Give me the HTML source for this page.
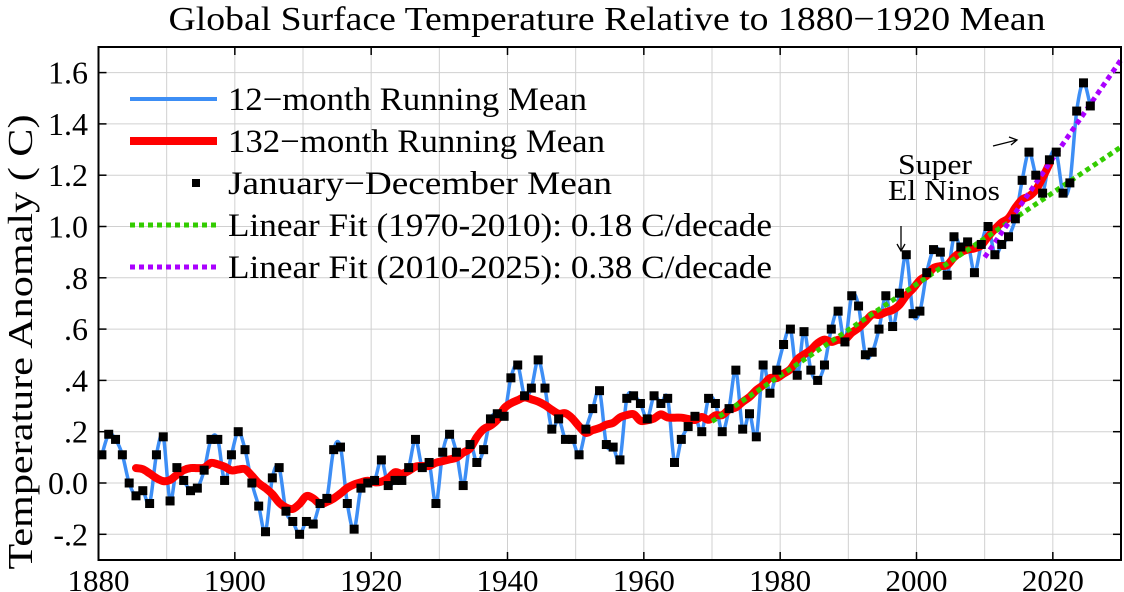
<!DOCTYPE html>
<html><head><meta charset="utf-8"><style>
body{margin:0;background:#fff}
svg{display:block;font-family:"Liberation Serif",serif}
</style></head><body>
<svg id="chart" width="1124" height="592" viewBox="0 0 1124 592"></svg>
<script>
const years = [];
for (let y = 1880; y <= 2025; y++) years.push(y);
const gistemp = [-0.17,-0.09,-0.11,-0.17,-0.28,-0.33,-0.31,-0.36,-0.17,-0.10,
-0.35,-0.22,-0.27,-0.31,-0.30,-0.23,-0.11,-0.11,-0.27,-0.17,
-0.08,-0.15,-0.28,-0.37,-0.47,-0.26,-0.22,-0.39,-0.43,-0.48,
-0.43,-0.44,-0.36,-0.34,-0.15,-0.14,-0.36,-0.46,-0.30,-0.28,
-0.27,-0.19,-0.29,-0.27,-0.27,-0.22,-0.11,-0.22,-0.20,-0.36,
-0.16,-0.09,-0.16,-0.29,-0.13,-0.20,-0.15,-0.03,-0.01,-0.02,
0.13,0.18,0.06,0.09,0.20,0.09,-0.07,-0.03,-0.11,-0.11,
-0.17,-0.07,0.01,0.08,-0.13,-0.14,-0.19,0.05,0.06,0.03,
-0.03,0.06,0.03,0.05,-0.20,-0.11,-0.06,-0.02,-0.08,0.05,
0.03,-0.08,0.01,0.16,-0.07,-0.01,-0.10,0.18,0.07,0.16,
0.26,0.32,0.14,0.31,0.16,0.12,0.18,0.32,0.39,0.27,
0.45,0.41,0.22,0.23,0.32,0.45,0.33,0.46,0.61,0.38,
0.39,0.54,0.63,0.62,0.53,0.68,0.64,0.66,0.54,0.65,
0.72,0.61,0.65,0.68,0.75,0.90,1.01,0.92,0.85,0.98,
1.01,0.85,0.89,1.17,1.28,1.19];
const baselineShift = 0.28;
const annualMean = gistemp.map(v => +(v + baselineShift).toFixed(2));
const fitGreen = {x0:1970, x1:2030, y0:0.24, y1:1.31};
const fitPurple = {x0:2010, x1:2030, y0:0.88, y1:1.65};
const yTicks = [-0.2,0,0.2,0.4,0.6,0.8,1.0,1.2,1.4,1.6];
const yTickLabels = ["-.2","0.0",".2",".4",".6",".8","1.0","1.2","1.4","1.6"];
const xTicks = [1880,1900,1920,1940,1960,1980,2000,2020];

const svg = document.getElementById('chart');
const NS = 'http://www.w3.org/2000/svg';
const L=98.5, R=1121, T=47, B=560;
const X = yr => L + (yr-1880)*(R-L)/150;
const Y = v => 483 - v*256.5;
function el(tag, attrs, parent){const e=document.createElementNS(NS,tag);for(const k in attrs)e.setAttribute(k,attrs[k]);(parent||svg).appendChild(e);return e;}

const grid = el('g',{});


for(let yr=1890; yr<2030; yr+=10) el('line',{x1:X(yr),x2:X(yr),y1:T,y2:B,stroke:'#d0d0d0','stroke-width':1},grid);
for(const v of yTicks) el('line',{x1:L,x2:R,y1:Y(v),y2:Y(v),stroke:'#d0d0d0','stroke-width':1},grid);

for(let i=0;i<yTicks.length;i++){
  const t=el('text',{x:88,y:Y(yTicks[i])+11,'text-anchor':'end','font-size':32});
  t.textContent=yTickLabels[i];
  
  
  el('line',{x1:L,x2:L+8,y1:Y(yTicks[i]),y2:Y(yTicks[i]),stroke:'#000','stroke-width':1.5});
  el('line',{x1:R-8,x2:R,y1:Y(yTicks[i]),y2:Y(yTicks[i]),stroke:'#000','stroke-width':1.5});
}
for(const yr of xTicks){
  const t=el('text',{x:X(yr),y:591,'text-anchor':'middle','font-size':31,textLength:62,lengthAdjust:'spacingAndGlyphs'});
  t.textContent=yr;
  
  
  el('line',{x1:X(yr),x2:X(yr),y1:B,y2:B-8,stroke:'#000','stroke-width':1.5});
  el('line',{x1:X(yr),x2:X(yr),y1:T,y2:T+8,stroke:'#000','stroke-width':1.5});
}

function spline(pts){
  let d='M'+pts[0][0]+','+pts[0][1];
  for(let i=0;i<pts.length-1;i++){
    const p0=pts[Math.max(0,i-1)],p1=pts[i],p2=pts[i+1],p3=pts[Math.min(pts.length-1,i+2)];
    const c1=[p1[0]+(p2[0]-p0[0])/6,p1[1]+(p2[1]-p0[1])/6];
    const c2=[p2[0]-(p3[0]-p1[0])/6,p2[1]-(p3[1]-p1[1])/6];
    d+=`C${c1[0].toFixed(1)},${c1[1].toFixed(1)} ${c2[0].toFixed(1)},${c2[1].toFixed(1)} ${p2[0].toFixed(1)},${p2[1].toFixed(1)}`;
  }
  return d;
}
const bluePts = years.map((yr,i)=>[X(yr+0.5),Y(annualMean[i])]);
const blue = el('path',{d:spline(bluePts),fill:'none',stroke:'#3d8ef5','stroke-width':3.5});



const redPts=[];
for(let i=5;i<annualMean.length-6;i++){
  let s=0;for(let j=i-5;j<=i+5;j++)s+=annualMean[j];
  redPts.push([X(years[i]+0.5),Y(s/11)]);
}
const red = el('path',{d:spline(redPts),fill:'none',stroke:'#ff0000','stroke-width':8,'stroke-linejoin':'round','stroke-linecap':'round'});



const g1=el('line',{x1:X(fitGreen.x0),y1:Y(fitGreen.y0),x2:X(fitGreen.x1),y2:Y(fitGreen.y1),stroke:'#33cc00','stroke-width':5,'stroke-dasharray':'5 4'});


const p1=el('line',{x1:X(fitPurple.x0),y1:Y(fitPurple.y0),x2:X(fitPurple.x1),y2:Y(fitPurple.y1),stroke:'#aa00ff','stroke-width':5,'stroke-dasharray':'5 4'});



for(let i=0;i<years.length;i++){
  const m=el('rect',{x:X(years[i]+0.5)-4.5,y:Y(annualMean[i])-4.5,width:9,height:9,fill:'#000'});
  
  
}

const fr=el('rect',{x:L,y:T,width:R-L,height:B-T,fill:'none',stroke:'#000','stroke-width':2});



const leg=[['12−month Running Mean','#3d8ef5',4,null,359],['132−month Running Mean','#ff0000',8,null,377],['January−December Mean',null,0,null,384],
['Linear Fit (1970-2010): 0.18  C/decade','#33cc00',5,'5 4',544],['Linear Fit (2010-2025): 0.38  C/decade','#aa00ff',5,'5 4',544]];
const ly=[99,141,183,225,267];
leg.forEach((l,i)=>{
  const g=el('g',{});
  
  
  if(l[1]){const a={x1:130,x2:217,y1:ly[i],y2:ly[i],stroke:l[1],'stroke-width':l[2]};if(l[3])a['stroke-dasharray']=l[3];el('line',a,g);}
  else el('rect',{x:192,y:ly[i]-4,width:8,height:8,fill:'#000'},g);
  const t=el('text',{x:228,y:ly[i]+11,'font-size':33,textLength:l[4],lengthAdjust:'spacingAndGlyphs','xml:space':'preserve'},g);t.textContent=l[0];
});

const a1=el('text',{x:935,y:174,'text-anchor':'middle','font-size':28,textLength:74,lengthAdjust:'spacingAndGlyphs'});a1.textContent='Super';

const a2=el('text',{x:944,y:200,'text-anchor':'middle','font-size':28,textLength:112,lengthAdjust:'spacingAndGlyphs'});a2.textContent='El Ninos';

el('line',{x1:901,y1:226,x2:901,y2:251,stroke:'#000','stroke-width':1.3});
el('path',{d:'M897,244 L901,251 L905,244',fill:'none',stroke:'#000','stroke-width':1.3});
el('line',{x1:993,y1:146,x2:1017,y2:140,stroke:'#000','stroke-width':1.3});
el('path',{d:'M1009,137 L1017,140 L1011,145',fill:'none',stroke:'#000','stroke-width':1.3});

const tt=el('text',{x:607,y:30,'text-anchor':'middle','font-size':34,textLength:877,lengthAdjust:'spacingAndGlyphs'});tt.textContent='Global Surface Temperature Relative to 1880−1920 Mean';

const yt=el('text',{x:0,y:0,'text-anchor':'middle','font-size':35,textLength:455,lengthAdjust:'spacingAndGlyphs',transform:'translate(32,342) rotate(-90)'});yt.textContent='Temperature Anomaly ( C)';

</script>
</body></html>
